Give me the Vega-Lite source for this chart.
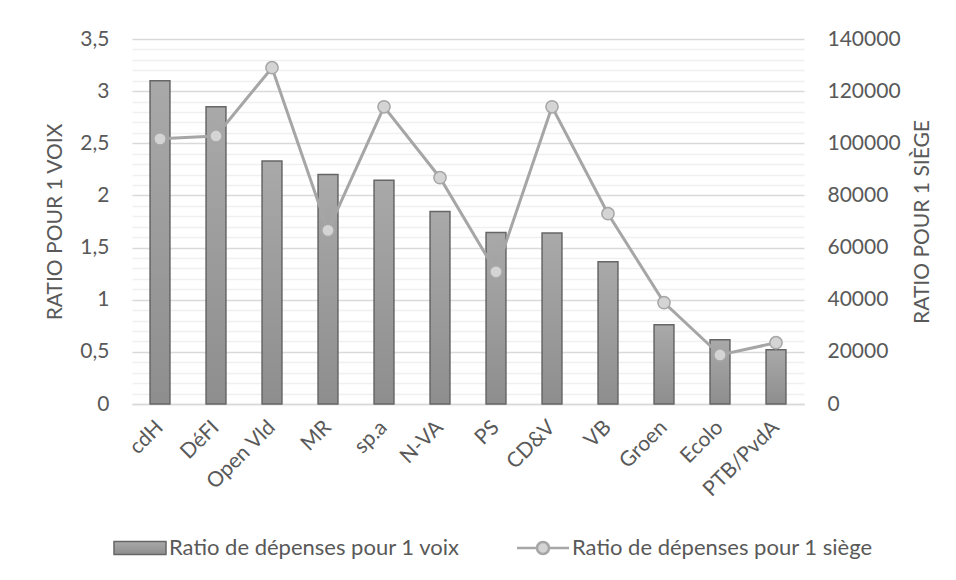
{
  "$schema": "https://vega.github.io/schema/vega-lite/v6.json",
  "width": 672,
  "height": 365,
  "autosize": {"type": "none"},
  "padding": {"left": 132, "top": 39, "right": 152, "bottom": 176},
  "background": "white",
  "config": {
    "view": {"stroke": null},
    "font": "Lato",
    "axis": {
      "labelFont": "Lato",
      "titleFont": "Lato",
      "labelColor": "#595959",
      "titleColor": "#595959",
      "labelFontSize": 21,
      "titleFontSize": 21,
      "titleFontWeight": "normal",
      "domain": false,
      "ticks": false
    },
    "legend": {
      "orient": "none",
      "direction": "horizontal",
      "labelFont": "Lato",
      "labelFontSize": 22,
      "labelColor": "#595959",
      "labelLimit": 0,
      "symbolSize": 100,
      "labelOffset": 18
    }
  },
  "data": {
    "values": [
      {"party": "cdH", "voix": 3.10, "siege": 101700},
      {"party": "DéFI", "voix": 2.85, "siege": 102800},
      {"party": "Open Vld", "voix": 2.33, "siege": 129000},
      {"party": "MR", "voix": 2.20, "siege": 66600},
      {"party": "sp.a", "voix": 2.145, "siege": 114000},
      {"party": "N-VA", "voix": 1.845, "siege": 86800},
      {"party": "PS", "voix": 1.645, "siege": 50700},
      {"party": "CD&V", "voix": 1.64, "siege": 114000},
      {"party": "VB", "voix": 1.365, "siege": 73000},
      {"party": "Groen", "voix": 0.76, "siege": 38900},
      {"party": "Ecolo", "voix": 0.615, "siege": 18800},
      {"party": "PTB/PvdA", "voix": 0.52, "siege": 23500}
    ]
  },
  "encoding": {
    "x": {
      "field": "party",
      "type": "nominal",
      "sort": null,
      "scale": {"paddingInner": 0.645, "paddingOuter": 0.3225},
      "axis": {
        "title": null,
        "labelAngle": -45,
        "labelAlign": "right",
        "labelBaseline": "middle",
        "labelPadding": 20,
        "domain": true,
        "domainColor": "#d9d9d9",
        "domainWidth": 1.5
      }
    }
  },
  "layer": [
    {
      "mark": {
        "type": "bar",
        "fill": {
          "gradient": "linear",
          "x1": 0, "y1": 0, "x2": 0, "y2": 1,
          "stops": [
            {"offset": 0, "color": "#a9a9a9"},
            {"offset": 1, "color": "#8e8e8e"}
          ]
        },
        "strokeWidth": 1.5
      },
      "encoding": {
        "y": {
          "field": "voix",
          "type": "quantitative",
          "scale": {"domain": [0, 3.5], "nice": false},
          "axis": {
            "title": "RATIO POUR 1 VOIX",
            "values": [0,0.1,0.2,0.3,0.4,0.5,0.6,0.7,0.8,0.9,1,1.1,1.2,1.3,1.4,1.5,1.6,1.7,1.8,1.9,2,2.1,2.2,2.3,2.4,2.5,2.6,2.7,2.8,2.9,3,3.1,3.2,3.3,3.4,3.5],
            "labelExpr": "abs(datum.value*2 - round(datum.value*2)) < 0.001 ? replace(format(datum.value, '~g'), '.', ',') : ''",
            "labelPadding": 23,
            "grid": true,
            "gridColor": {
              "condition": {"test": "abs(datum.value*2 - round(datum.value*2)) < 0.001", "value": "#d9d9d9"},
              "value": "#f0f0f0"
            },
            "gridWidth": 1.3,
            "titlePadding": 14
          }
        },
        "stroke": {
          "datum": "Ratio de dépenses pour 1 voix",
          "type": "nominal",
          "scale": {"range": ["#666666"]},
          "legend": {
            "title": null,
            "legendX": -3,
            "legendY": 498,
            "symbolType": "M-5.2,-1.3H5.2V1.3H-5.2Z",
            "symbolStrokeWidth": 1.5
          }
        }
      }
    },
    {
      "encoding": {
        "y": {
          "field": "siege",
          "type": "quantitative",
          "scale": {"domain": [0, 140000], "nice": false},
          "axis": {
            "orient": "right",
            "title": "RATIO POUR 1 SIÈGE",
            "titleAngle": 270,
            "values": [0, 20000, 40000, 60000, 80000, 100000, 120000, 140000],
            "format": "d",
            "grid": false,
            "labelPadding": 23,
            "titlePadding": 32
          }
        }
      },
      "layer": [
        {
          "mark": {"type": "line", "strokeWidth": 3, "stroke": "#a6a6a6"},
          "encoding": {}
        },
        {
          "mark": {"type": "point", "filled": true, "size": 150, "stroke": "#a6a6a6", "strokeWidth": 1.5, "opacity": 1},
          "encoding": {
            "color": {
              "datum": "Ratio de dépenses pour 1 siège",
              "type": "nominal",
              "scale": {"range": ["#d4d4d4"]},
              "legend": {
                "title": null,
                "legendX": 400,
                "legendY": 498,
                "symbolType": "M-5.2,0H-1.2M1.2,0H5.2M1.2,0A1.2,1.2,0,1,1,-1.2,0A1.2,1.2,0,1,1,1.2,0",
                "symbolStrokeWidth": 2.5,
                "symbolStrokeColor": "#a6a6a6"
              }
            }
          }
        }
      ]
    }
  ],
  "resolve": {"scale": {"y": "independent"}}
}
